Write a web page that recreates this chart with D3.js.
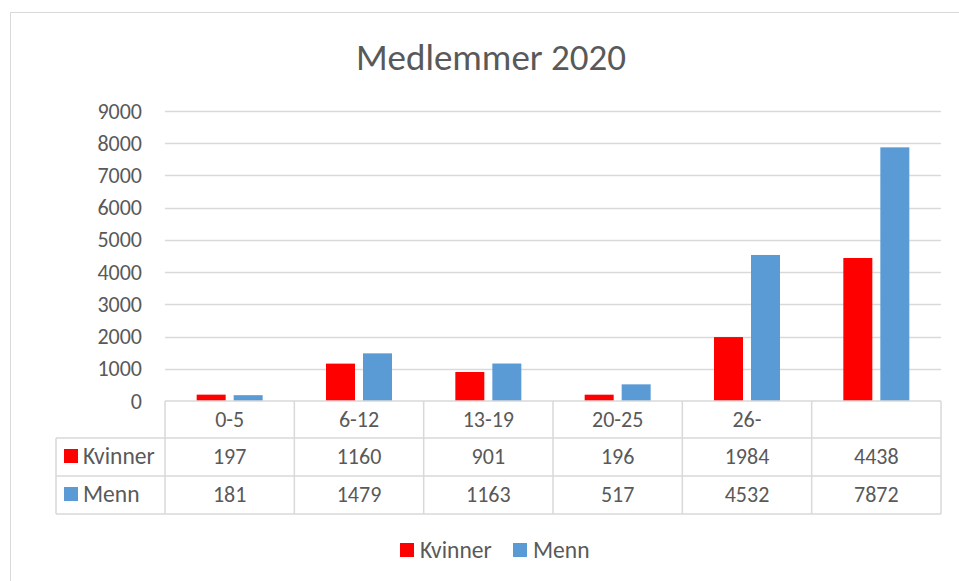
<!DOCTYPE html>
<html>
<head>
<meta charset="utf-8">
<script src="https://cdn.jsdelivr.net/npm/d3@7"></script>
<style>
  body { margin: 0; background: #fff; }
  text { font-family: Carlito, Calibri, Lato, sans-serif; fill: #595959; }
</style>
</head>
<body>
<svg id="canvas"></svg>
<script>
let width = 959, height = 581

// data
const categories = ["0-5", "6-12", "13-19", "20-25", "26-", ""]
const seriesNames = ["Kvinner", "Menn"]
const kvinner = [197, 1160, 901, 196, 1984, 4438]
const menn = [181, 1479, 1163, 517, 4532, 7872]
const yTicks = [0, 1000, 2000, 3000, 4000, 5000, 6000, 7000, 8000, 9000]
const colors = ["#ff0000", "#5b9bd5"]

const series = [kvinner, menn]
const fs = "22px", fsName = "23.5px"

let svg = d3.select('#canvas').attr("width", width).attr("height", height)

// chart area border
svg.append("rect")
  .attr("x", 10.5).attr("y", 12.5)
  .attr("width", 960).attr("height", 600)
  .style("fill", "white").style("stroke", "#d9d9d9")

// title
svg.append("text")
  .attr("x", 491).attr("y", 70)
  .attr("text-anchor", "middle")
  .style("font-size", "37px")
  .text("Medlemmer 2020")

let plotLeft = 165, plotRight = 941, plotTop = 111, plotBottom = 401

let x = d3.scaleBand().domain(d3.range(categories.length)).range([plotLeft, plotRight])
let y = d3.scaleLinear().domain([0, 9000]).range([plotBottom, plotTop])

// gridlines
svg.append("g").selectAll("line")
  .data(yTicks.filter(d => d > 0))
  .enter().append("line")
  .attr("x1", plotLeft).attr("x2", plotRight)
  .attr("y1", d => Math.round(y(d)) + 0.5).attr("y2", d => Math.round(y(d)) + 0.5)
  .style("stroke", "#d9d9d9").style("stroke-width", 1.3)

// y tick labels
svg.append("g").selectAll("text")
  .data(yTicks)
  .enter().append("text")
  .attr("x", 142).attr("y", d => y(d) + 7.5)
  .attr("text-anchor", "end")
  .style("font-size", fs)
  .text(d => d)

// bars
let barW = 29, gap = 8
series.forEach((vals, s) => {
  svg.append("g").selectAll("rect")
    .data(vals)
    .enter().append("rect")
    .attr("x", (d, i) => x(i) + x.bandwidth() / 2 - gap / 2 - barW + s * (barW + gap))
    .attr("y", d => y(d))
    .attr("width", barW)
    .attr("height", d => plotBottom - y(d))
    .style("fill", colors[s])
})

// data table
let rowTop = [401, 438, 476, 514]
let tableLeft = 56
let grid = svg.append("g").style("stroke", "#d9d9d9").style("stroke-width", 1.5)

rowTop.forEach((ry, k) => {
  grid.append("line")
    .attr("x1", k == 0 ? plotLeft : tableLeft).attr("x2", plotRight)
    .attr("y1", ry).attr("y2", ry)
})
grid.append("line").attr("x1", tableLeft).attr("x2", tableLeft).attr("y1", rowTop[1]).attr("y2", rowTop[3])
d3.range(categories.length + 1).forEach(i => {
  let xx = i < categories.length ? x(i) : plotRight
  grid.append("line").attr("x1", xx).attr("x2", xx).attr("y1", rowTop[0]).attr("y2", rowTop[3])
})

// category labels
svg.append("g").selectAll("text")
  .data(categories)
  .enter().append("text")
  .attr("x", (d, i) => x(i) + x.bandwidth() / 2)
  .attr("y", (rowTop[0] + rowTop[1]) / 2 + 7)
  .attr("text-anchor", "middle")
  .style("font-size", fs)
  .text(d => d)

// series rows
series.forEach((vals, s) => {
  let cy = (rowTop[s + 1] + rowTop[s + 2]) / 2
  svg.append("rect")
    .attr("x", 64).attr("y", cy - 8)
    .attr("width", 14).attr("height", 14)
    .style("fill", colors[s])
  svg.append("text")
    .attr("x", 83).attr("y", cy + 7)
    .style("font-size", fsName)
    .text(seriesNames[s])
  svg.append("g").selectAll("text")
    .data(vals)
    .enter().append("text")
    .attr("x", (d, i) => x(i) + x.bandwidth() / 2)
    .attr("y", cy + 7)
    .attr("text-anchor", "middle")
    .style("font-size", fs)
    .text(d => d)
})

// legend
let legendX = [400, 513]
seriesNames.forEach((n, s) => {
  svg.append("rect")
    .attr("x", legendX[s]).attr("y", 543)
    .attr("width", 14).attr("height", 14)
    .style("fill", colors[s])
  svg.append("text")
    .attr("x", legendX[s] + 20).attr("y", 558)
    .style("font-size", fsName)
    .text(n)
})
</script>
</body>
</html>
